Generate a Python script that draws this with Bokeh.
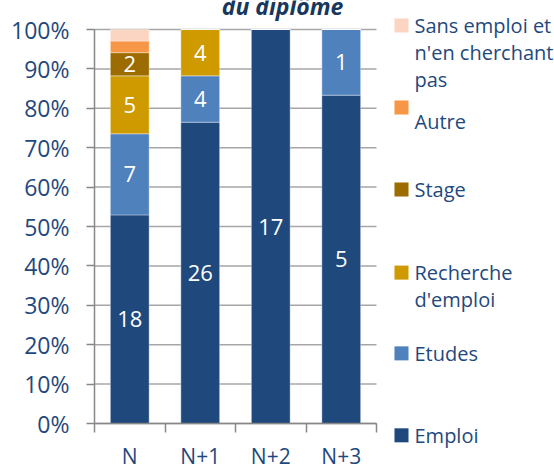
from bokeh.plotting import figure
from bokeh.models import FixedTicker, Label, BoxAnnotation, Range1d
from bokeh.core.properties import value
from bokeh.embed import file_html
from bokeh.resources import INLINE

# ---- data ----
categories = ["N", "N+1", "N+2", "N+3"]
emploi = [18, 26, 17, 5]
etudes = [7, 4, 0, 1]
recherche = [5, 4, 0, 0]
stage = [2, 0, 0, 0]
autre = [1, 0, 0, 0]
sans_emploi = [1, 0, 0, 0]

series_names = ["Emploi", "Etudes", "Recherche d'emploi", "Stage", "Autre",
                "Sans emploi et n'en cherchant pas"]
series_values = [emploi, etudes, recherche, stage, autre, sans_emploi]
series_colors = ["#1F497D", "#4F81BD", "#CF9A00", "#9C6C00", "#F79646", "#FCD5C2"]
y_ticks = list(range(0, 101, 10))
y_tick_labels = [f"{t}%" for t in y_ticks]

# legend text lines and their vertical positions (styling)
legend_lines = {
    "Sans emploi et n'en cherchant pas": (["Sans emploi et", "n'en cherchant", "pas"], 101.0, 101.0),
    "Autre": (["Autre"], 76.6, 80.2),
    "Stage": (["Stage"], 59.4, 59.4),
    "Recherche d'emploi": (["Recherche", "d'emploi"], 38.3, 38.3),
    "Etudes": (["Etudes"], 17.8, 17.8),
    "Emploi": (["Emploi"], -3.0, -3.0),
}

TXT = "#1F497D"
FONT = "Open Sans"
AX = "#878787"

# frame covers the whole canvas; the axes are pinned at data locations
p = figure(width=554, height=464,
           x_range=Range1d(-94 / 70.5, 460 / 70.5),
           y_range=Range1d(-41 / 3.94, 100 + 29 / 3.94),
           output_backend="svg", toolbar_location=None, min_border=0)
p.outline_line_color = None
p.background_fill_color = "white"
p.xgrid.visible = False
p.ygrid.visible = False

n = len(categories)
xs = [i + 0.5 for i in range(n)]

# horizontal gridlines (behind the bars)
p.segment(x0=[0] * len(y_ticks), x1=[n] * len(y_ticks), y0=y_ticks, y1=y_ticks,
          line_color="#A6A6A6", line_width=1.5)

totals = [sum(v[i] for v in series_values) for i in range(n)]
bottoms = [0.0] * n
lab_x, lab_y, lab_t = [], [], []
for name, vals, col in zip(series_names, series_values, series_colors):
    pct = [100.0 * v / t for v, t in zip(vals, totals)]
    tops = [b + q for b, q in zip(bottoms, pct)]
    p.vbar(x=xs, bottom=bottoms, top=tops, width=0.55, fill_color=col,
           line_color="white", line_width=0.6, line_alpha=0.6)
    for i, v in enumerate(vals):
        if v > 0 and pct[i] > 4:
            lab_x.append(xs[i])
            lab_y.append((bottoms[i] + tops[i]) / 2)
            lab_t.append(str(v))
    bottoms = tops

p.text(x=lab_x, y=lab_y, text=lab_t, text_color="white", text_font=value(FONT),
       text_font_size="22px", text_align="center", text_baseline="middle")

# y axis
p.yaxis.fixed_location = 0
p.yaxis.bounds = (0, 100)
p.yaxis.ticker = FixedTicker(ticks=y_ticks)
p.yaxis.major_label_overrides = dict(zip(y_ticks, y_tick_labels))
p.yaxis.major_label_text_font = FONT
p.yaxis.major_label_text_font_size = "23px"
p.yaxis.major_label_text_color = TXT
p.yaxis.major_tick_out = 8
p.yaxis.major_tick_in = 0
p.yaxis.minor_tick_line_color = None
p.yaxis.major_label_standoff = 17
p.yaxis.axis_line_color = AX
p.yaxis.major_tick_line_color = AX
p.yaxis.axis_line_width = 1.5
p.yaxis.major_tick_line_width = 1.5

# x axis: labels at category centres, tick marks at category boundaries
p.xaxis.fixed_location = 0
p.xaxis.bounds = (0, n)
p.xaxis.ticker = FixedTicker(ticks=xs, minor_ticks=list(range(n + 1)))
p.xaxis.major_label_overrides = dict(zip(xs, categories))
p.xaxis.major_label_text_font = FONT
p.xaxis.major_label_text_font_size = "21px"
p.xaxis.major_label_text_color = TXT
p.xaxis.major_tick_line_color = None
p.xaxis.major_tick_out = 9
p.xaxis.major_tick_in = 0
p.xaxis.major_label_standoff = 9
p.xaxis.minor_tick_out = 9
p.xaxis.minor_tick_in = 0
p.xaxis.minor_tick_line_color = AX
p.xaxis.minor_tick_line_width = 1.5
p.xaxis.axis_line_color = AX
p.xaxis.axis_line_width = 1.5

# cropped title (only its last line shows, cut at the top edge)
p.add_layout(Label(x=2.667, y=106.0, text="du diplôme", text_font=FONT,
                   text_font_size="23px", text_font_style="bold italic",
                   text_color="#17375E", text_align="center", text_baseline="alphabetic"))

# legend
for name, col in zip(series_names, series_colors):
    lines, ytext, ymark = legend_lines[name]
    p.add_layout(BoxAnnotation(left=4.255, right=4.454, bottom=ymark - 1.78, top=ymark + 1.78,
                               fill_color=col, fill_alpha=1, line_color=None, level="overlay"))
    for k, ln in enumerate(lines):
        p.add_layout(Label(x=4.539, y=ytext - k * 6.8, text=ln, text_font=FONT,
                           text_font_size="20px", text_color=TXT, text_align="left",
                           text_baseline="middle"))

open("out.html", "w").write(file_html(p, INLINE))
